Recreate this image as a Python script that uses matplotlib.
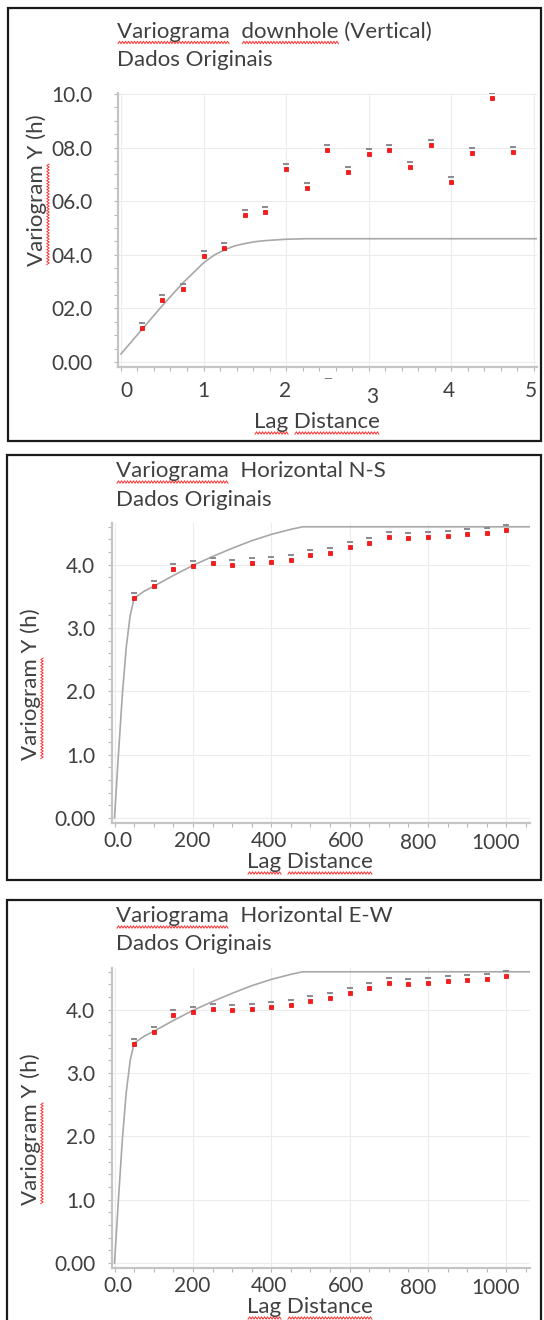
import numpy as np
import matplotlib
matplotlib.use("Agg")
import matplotlib.pyplot as plt
from matplotlib.patches import Rectangle
from matplotlib.ticker import MultipleLocator
import matplotlib.transforms as mtransforms

plt.rcParams['font.family'] = ['Lato', 'DejaVu Sans']

W, H = 544, 1320

# --- painel 1: downhole (vertical)
lag_v = [0.25, 0.5, 0.75, 1.0, 1.25, 1.5, 1.75, 2.0, 2.25, 2.5,
         2.75, 3.0, 3.25, 3.5, 3.75, 4.0, 4.25, 4.5, 4.75]
gamma_v = [1.27, 2.31, 2.72, 3.94, 4.24, 5.48, 5.60, 7.22, 6.50, 7.91,
           7.09, 7.78, 7.90, 7.29, 8.10, 6.71, 7.81, 9.84, 7.84]
model_v_x = [0, 0.25, 0.5, 0.75, 1.0, 1.125, 1.25, 1.375, 1.5, 1.625, 1.75, 2.0, 2.25, 5.04]
model_v_y = [0.3, 1.2, 2.1, 2.95, 3.7, 3.98, 4.18, 4.33, 4.42, 4.49, 4.53, 4.58, 4.6, 4.6]
xticks_v = [0, 1, 2, 3, 4, 5]
xtick_lab_v = ['0', '1', '2', '3', '4', '5']
yticks_v = [0, 2, 4, 6, 8, 10]
ytick_lab_v = ['0.00', '02.0', '04.0', '06.0', '08.0', '10.0']

# --- painel 2: horizontal N-S
lag_ns = [50, 100, 150, 200, 250, 300, 350, 400, 450, 500,
          550, 600, 650, 700, 750, 800, 850, 900, 950, 1000]
gamma_ns = [3.47, 3.67, 3.94, 3.98, 4.03, 4.00, 4.03, 4.05, 4.08, 4.16,
            4.19, 4.28, 4.35, 4.44, 4.42, 4.44, 4.46, 4.48, 4.50, 4.55]
model_ns_x = [0, 10, 20, 30, 40, 50, 75, 100, 150, 200, 250, 300, 350, 400, 450, 480, 1060]
model_ns_y = [0, 1.0, 1.95, 2.7, 3.2, 3.47, 3.58, 3.66, 3.83, 3.99, 4.13, 4.26, 4.38, 4.48, 4.56, 4.6, 4.6]

# --- painel 3: horizontal E-W
lag_ew = [50, 100, 150, 200, 250, 300, 350, 400, 450, 500,
          550, 600, 650, 700, 750, 800, 850, 900, 950, 1000]
gamma_ew = [3.46, 3.65, 3.92, 3.97, 4.01, 4.00, 4.01, 4.04, 4.07, 4.14,
            4.18, 4.27, 4.34, 4.42, 4.40, 4.42, 4.45, 4.47, 4.49, 4.53]
model_ew_x = [0, 10, 20, 30, 40, 50, 75, 100, 150, 200, 250, 300, 350, 400, 450, 480, 1060]
model_ew_y = [0, 1.0, 1.95, 2.7, 3.2, 3.47, 3.58, 3.66, 3.83, 3.99, 4.13, 4.26, 4.38, 4.48, 4.56, 4.6, 4.6]

xticks_h = [0, 200, 400, 600, 800, 1000]
xtick_lab_h = ['0.0', '200', '400', '600', '800', '1000']
yticks_h = [0, 1, 2, 3, 4]
ytick_lab_h = ['0.00', '1.0', '2.0', '3.0', '4.0']

TXT = '#404040'
fig = plt.figure(figsize=(W / 100, H / 100), dpi=100)


def px_axes(l, r, t, b):
    return fig.add_axes([l / W, 1 - b / H, (r - l) / W, (b - t) / H])


def squiggle(x0, x1, y, vertical=False):
    # sublinhado ondulado do corretor ortografico
    t = np.arange(0, x1 - x0 + 0.1, 1.5)
    w = np.where((np.arange(len(t)) % 2) == 0, 1.2, -1.2)
    if vertical:
        xs, ys = y + w, H - (x0 + t)
    else:
        xs, ys = x0 + t, H - (y + w)
    fig.add_artist(plt.Line2D(np.array(xs) / W, np.array(ys) / H, color='#ff3030', lw=0.7,
                              transform=fig.transFigure))


def text_w(s, size):
    r = fig.canvas.get_renderer()
    t = fig.text(0, 0, s, fontsize=size)
    bb = t.get_window_extent(r)
    t.remove()
    return bb.width


def panel(box, ax_px, lag, gamma, mx, my, xlim, ylim, xt, xtl, yt, ytl, xminor, yminor,
          title, ylab_c, xlab_c, ypad, xpad, xoffs, under):
    l, t, r, b = box
    fig.add_artist(Rectangle((l / W, 1 - b / H), (r - l) / W, (b - t) / H, fill=False,
                             ec='#1a1a1a', lw=1.6, transform=fig.transFigure))
    ax = px_axes(*ax_px)
    ax.set_xlim(xlim)
    ax.set_ylim(ylim)
    for s in ['top', 'right']:
        ax.spines[s].set_visible(False)
    for s in ['left', 'bottom']:
        ax.spines[s].set_color('#c4c4c4')
        ax.spines[s].set_linewidth(1.6)
    ax.set_xticks(xt)
    ax.set_xticklabels(xtl)
    ax.set_yticks(yt)
    ax.set_yticklabels(ytl)
    ax.xaxis.set_minor_locator(MultipleLocator(xminor))
    ax.yaxis.set_minor_locator(MultipleLocator(yminor))
    ax.tick_params(which='both', direction='out', color='#b8b8b8', length=3, width=0.8,
                   labelcolor=TXT, labelsize=15)
    ax.tick_params(axis='y', pad=ypad)
    ax.tick_params(axis='x', pad=xpad)
    ax.grid(True, which='major', color='#ececec', lw=0.8)
    ax.set_axisbelow(True)
    for lbl, (dx, dy) in zip(ax.get_xticklabels(), xoffs):
        lbl.set_transform(lbl.get_transform() +
                          mtransforms.ScaledTranslation(dx / 100, -dy / 100, fig.dpi_scale_trans))

    ax.plot(mx, my, color='#a8a8a8', lw=1.2, zorder=3)
    ax.plot(lag, gamma, ls='none', marker='s', ms=3.2, mfc='#ff1a1a', mec='#e00000', mew=0.5, zorder=4)
    up = mtransforms.offset_copy(ax.transData, fig=fig, x=0, y=5, units='dots')
    ax.plot(lag, gamma, ls='none', marker='_', ms=4.5, mec='#8a8a8a', mew=1.4, transform=up, zorder=4)

    # titulo (duas linhas)
    fs = 16
    tx, ty1, ty2 = title[2]
    fig.text(tx / W, 1 - ty1 / H, title[0], fontsize=fs, color=TXT, va='baseline')
    fig.text(tx / W, 1 - ty2 / H, title[1], fontsize=fs, color=TXT, va='baseline')
    for word in under:
        i = title[0].index(word)
        x0 = tx + (text_w(title[0][:i] + 'x', fs) - text_w('x', fs)) if i else tx
        x1 = tx + text_w(title[0][:i + len(word)], fs)
        squiggle(x0 + 1, x1, ty1 + 5)

    # rotulo eixo y
    fs2 = 16
    ylab = 'Variogram Y (h)'
    fig.text(ylab_c[0] / W, 1 - ylab_c[1] / H, ylab, fontsize=fs2, color=TXT, rotation=90,
             ha='center', va='center')
    wl = text_w(ylab, fs2)
    wv = text_w('Variogram', fs2)
    ybot = ylab_c[1] + wl / 2
    squiggle(ybot - wv, ybot, ylab_c[0] + 11, vertical=True)

    # rotulo eixo x
    xl = 'Lag Distance'
    fig.text(xlab_c[0] / W, 1 - xlab_c[1] / H, xl, fontsize=fs2, color=TXT, ha='center',
             va='baseline')
    wx = text_w(xl, fs2)
    x0 = xlab_c[0] - wx / 2
    wlag = text_w('Lag', fs2)
    wd0 = text_w('Lag D', fs2) - text_w('D', fs2)
    squiggle(x0 + 1, x0 + wlag, xlab_c[1] + 5)
    squiggle(x0 + wd0 + 1, x0 + wx, xlab_c[1] + 5)
    return ax


ax1 = panel((8, 8, 541, 441), (118, 537, 92.7, 366.8), lag_v, gamma_v, model_v_x, model_v_y,
            (-0.036, 5.04), (-0.18, 10.05), xticks_v, xtick_lab_v, yticks_v, ytick_lab_v, 0.2, 0.5,
            ('Variograma  downhole (Vertical)', 'Dados Originais', (117, 37.5, 66)),
            (37, 190), (317, 428), 15, 7,
            [(5, 0), (0, 0), (-1, 0), (4, 6), (-2, 0), (-3, 0)], ['Variograma', 'downhole'])
ax1.text(2.5, -0.63, '\u2014', fontsize=8, color='#606060', ha='center', va='center')

off_h = [(3.5, 0), (-1, 0), (-2.5, 0), (-3.5, 0), (-10, 2), (-11, 2)]
for k, (lag, gam, mx, my, name) in enumerate([
        (lag_ns, gamma_ns, model_ns_x, model_ns_y, 'Variograma  Horizontal N-S'),
        (lag_ew, gamma_ew, model_ew_x, model_ew_y, 'Variograma  Horizontal E-W')]):
    dy = 445 * k
    panel((7, 455 + dy, 541, 880 + dy), (112, 530, 523 + dy, 823 + dy), lag, gam, mx, my,
          (-6.4, 1060), (-0.08, 4.66), xticks_h, xtick_lab_h, yticks_h, ytick_lab_h, 50, 0.2,
          (name, 'Dados Originais', (116, 477 + dy, 505.5 + dy)),
          (31, 684 + dy), (310, 868 + dy), 9, 2.5, off_h, ['Variograma'])

fig.savefig('out.png', dpi=100, facecolor='white')
